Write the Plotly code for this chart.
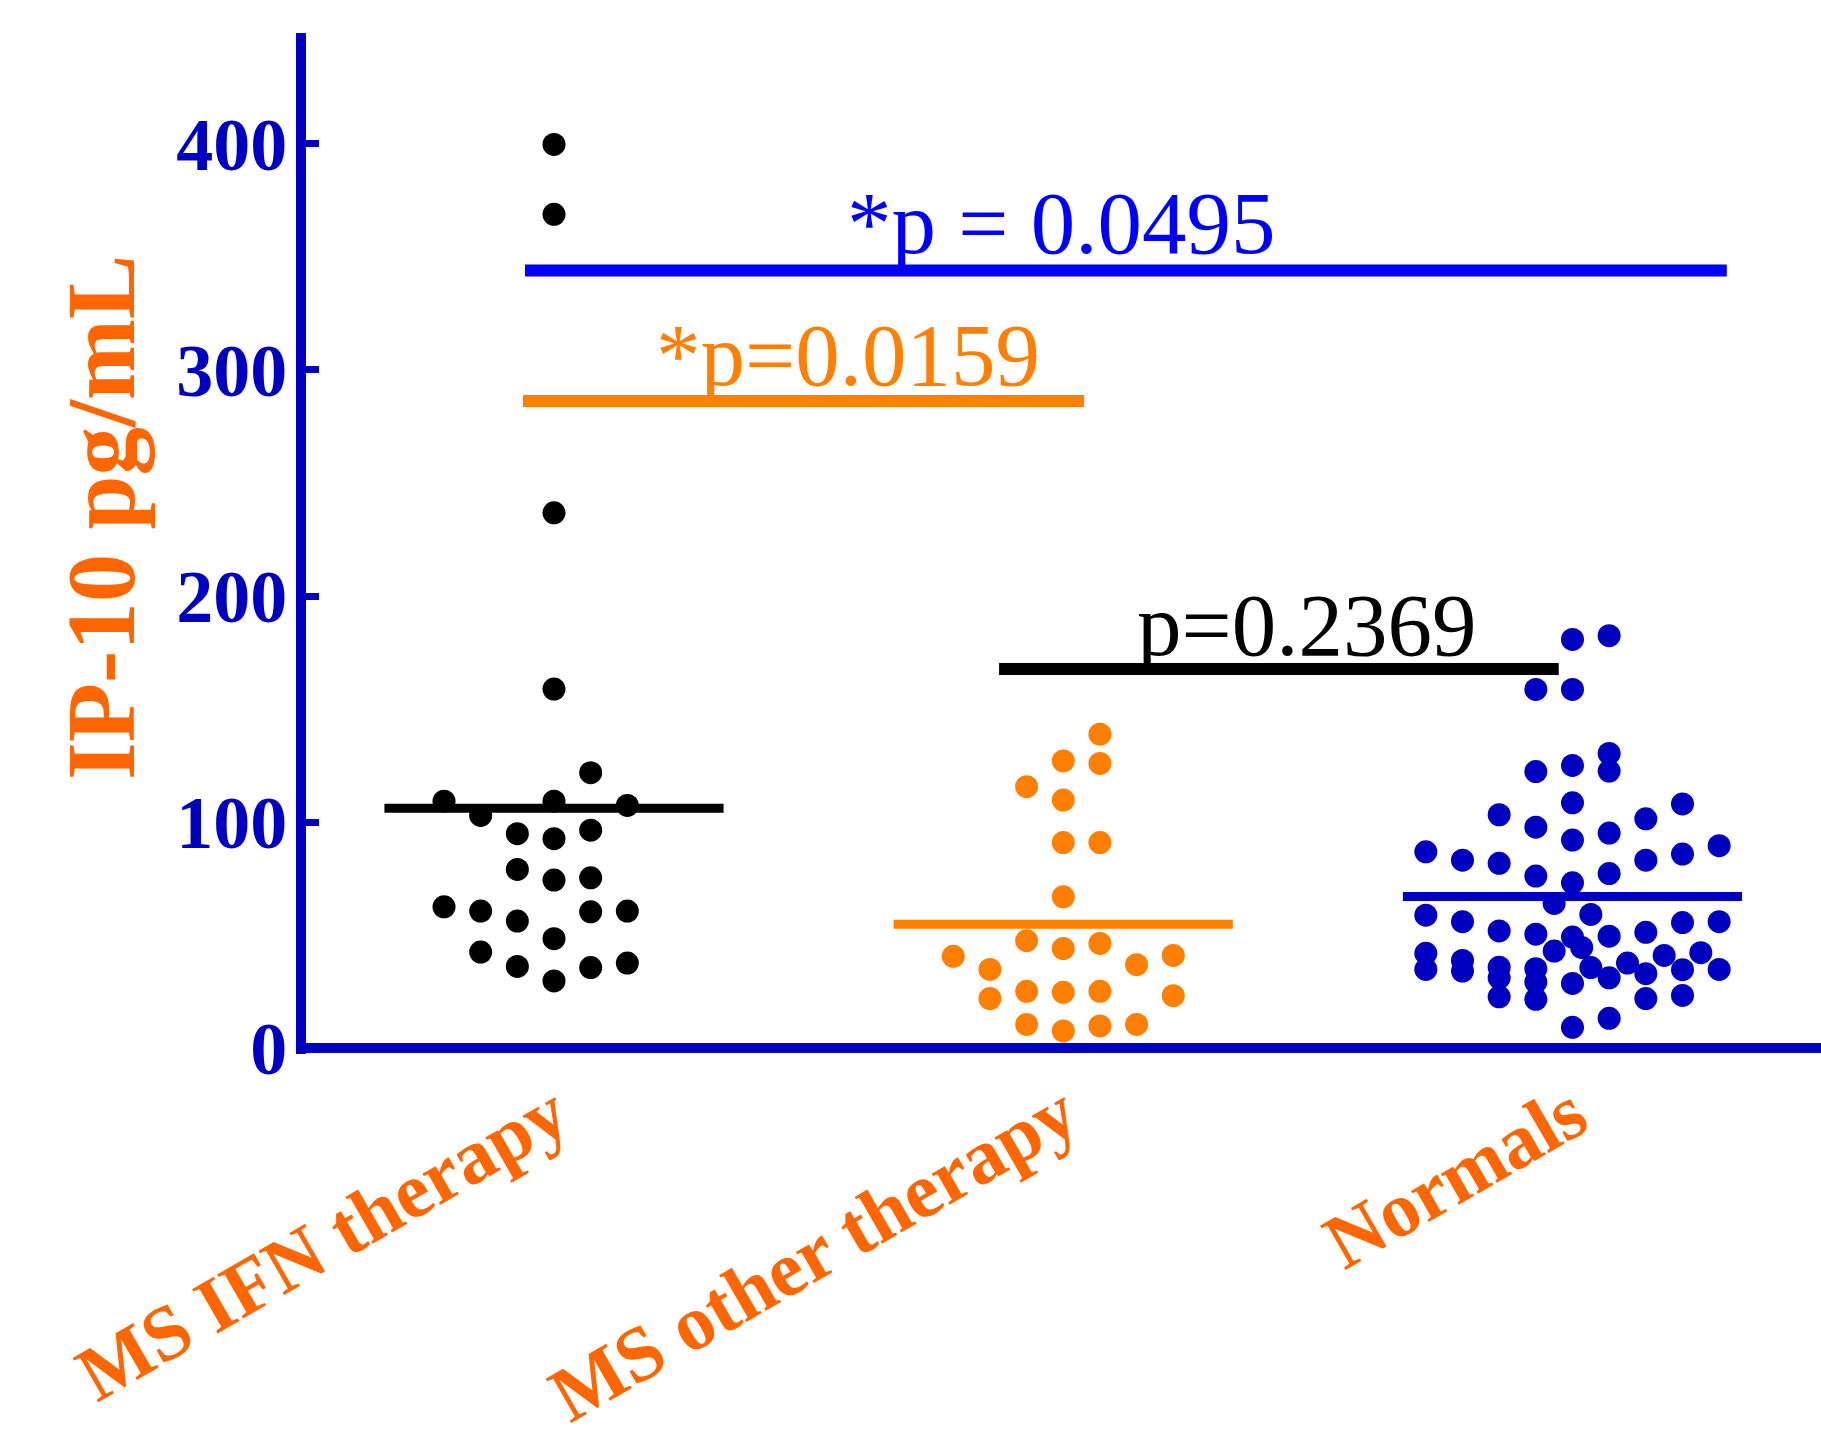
import plotly.graph_objects as go

# ---- data -------------------------------------------------------------
groups = ["MS IFN therapy", "MS other therapy", "Normals"]

# IP-10 (pg/mL) per subject and its column slot inside the scatter column
ifn_values = [399.7, 368.8, 236.8, 158.9, 121.9, 109.3, 109.3, 107.4, 103.0,
              94.9, 92.7, 96.5, 79.1, 74.4, 75.4, 62.6, 60.7, 56.3, 60.4,
              60.7, 48.5, 42.6, 36.2, 29.8, 35.7, 37.7]
ifn_slots = [0, 0, 0, 0, 1, -3, 0, 2, -2, -1, 0, 1, -1, 0, 1, -3, -2, -1, 1,
             2, 0, -2, -1, 0, 1, 2]

other_values = [138.9, 127.1, 126.0, 115.7, 109.8, 91.0, 91.0, 67.0, 47.6,
                44.1, 46.4, 40.7, 34.9, 37.0, 41.1, 22.0, 25.2, 24.8, 25.2,
                23.3, 10.6, 7.7, 9.9, 10.6]
other_slots = [1, 0, 1, -1, 0, 0, 1, 0, -1, 0, 1, -3, -2, 2, 3, -2, -1, 0, 1,
               3, -1, 0, 1, 2]

normal_values = [180.8, 182.5, 158.7, 158.7, 130.4, 122.6, 125.1, 122.4,
                 108.6, 103.3, 108.1, 97.8, 92.1, 95.2, 101.5, 86.9, 83.2,
                 81.8, 76.2, 73.2, 77.3, 83.2, 85.9, 89.6, 64.1, 59.2, 58.9,
                 56.0, 51.9, 50.5, 49.2, 44.6, 49.6, 51.3, 55.6, 56.0, 43.0,
                 42.0, 34.9, 38.9, 34.2, 35.9, 31.2, 22.8, 35.2, 29.3, 21.7,
                 35.7, 31.2, 37.7, 33.0, 41.1, 34.8, 42.3, 34.9, 28.7, 22.0,
                 23.4, 13.3, 9.3]
normal_slots = [0, 1, -1, 0, 1, 1, 0, -1, 0, -2, 3, -1, 0, 1, 2, -4, -3, -2,
                -1, 0, 1, 2, 3, 4, -0.5, 0.5, -4, -3, -2, -1, 0, 0.25, 1, 2,
                3, 4, -0.5, -4, -4, -3, -3, -2, -2, -2, -1, -1, -1, 0.5, 1,
                1.5, 2, 2.5, 3, 3.5, 4, 0, 2, 3, 1, 0]

# pairwise comparisons: (first group, second group, label)
comparisons = [
    (0, 2, "*p = 0.0495"),
    (0, 1, "*p=0.0159"),
    (1, 2, "p=0.2369"),
]

# ---- styling ----------------------------------------------------------
AXIS_BLUE = "#0000C0"
LABEL_ORANGE = "#FF6600"
point_colors = ["#000000", "#FF8000", AXIS_BLUE]
comp_colors = ["#0000FF", "#FF8000", "#000000"]
SERIF = "Liberation Serif"

SLOT_W = 0.072        # horizontal spacing of the dot columns
MEAN_HALF = 0.333     # half width of the mean bar

# bracket geometry for each comparison: x start, x end, bar level, label level
bracket_geom = [
    (-0.057, 2.303, 344.0, 365.0),
    (-0.061, 1.041, 286.3, 306.7),
    (0.874, 1.973, 167.8, 187.0),
]
label_x = [0.995, 0.577, 1.477]

fig = go.Figure()

series = [(ifn_values, ifn_slots), (other_values, other_slots),
          (normal_values, normal_slots)]

# mean bars
for gi, (vals, _) in enumerate(series):
    m = sum(vals) / len(vals)
    fig.add_trace(go.Scatter(
        x=[gi - MEAN_HALF, gi + MEAN_HALF], y=[m, m], mode="lines",
        line=dict(color=point_colors[gi], width=9), hoverinfo="skip",
        showlegend=False))

# dots
for gi, (vals, slots) in enumerate(series):
    fig.add_trace(go.Scatter(
        x=[gi + s * SLOT_W for s in slots], y=vals, mode="markers",
        marker=dict(color=point_colors[gi], size=23, line=dict(width=0)),
        name=groups[gi], showlegend=False))

# comparison bars and p-values
for ci, (a, b, text) in enumerate(comparisons):
    x0, x1, ybar, ytxt = bracket_geom[ci]
    fig.add_trace(go.Scatter(
        x=[x0, x1], y=[ybar, ybar], mode="lines",
        line=dict(color=comp_colors[ci], width=12), hoverinfo="skip",
        showlegend=False))
    fig.add_annotation(
        x=label_x[ci], y=ytxt, xref="x", yref="y", text=text,
        showarrow=False, xanchor="center", yanchor="middle",
        font=dict(family=SERIF, size=89, color=comp_colors[ci]))

# y-axis title
fig.add_annotation(
    x=-0.1345, y=0.5252, xref="paper", yref="paper", text="IP-10 pg/mL",
    textangle=-90, showarrow=False, xanchor="center", yanchor="middle",
    font=dict(family=SERIF, size=97, color=LABEL_ORANGE, weight="bold"))

fig.update_layout(
    width=1821, height=1445,
    margin=dict(l=306, r=0, t=33, b=391, pad=0, autoexpand=False),
    paper_bgcolor="white", plot_bgcolor="white",
    xaxis=dict(
        range=[-0.487, 2.488], tickmode="array", tickvals=[0, 1, 2],
        ticktext=groups, tickangle=-30, showline=False, showgrid=False,
        zeroline=False, ticks="", ticklabelstandoff=0, automargin=False,
        tickfont=dict(family=SERIF, size=78, color=LABEL_ORANGE,
                      weight="bold")),
    yaxis=dict(
        range=[-2.5, 449], tickmode="array", tickvals=[0, 100, 200, 300, 400],
        showline=True, linecolor=AXIS_BLUE, linewidth=10,
        ticks="inside", ticklen=13, tickwidth=7, tickcolor=AXIS_BLUE,
        showgrid=False, zeroline=True, zerolinecolor=AXIS_BLUE,
        zerolinewidth=10, ticklabelstandoff=-6, automargin=False,
        tickfont=dict(family=SERIF, size=74, color=AXIS_BLUE, weight="bold")),
)

fig.write_html("out.html")
